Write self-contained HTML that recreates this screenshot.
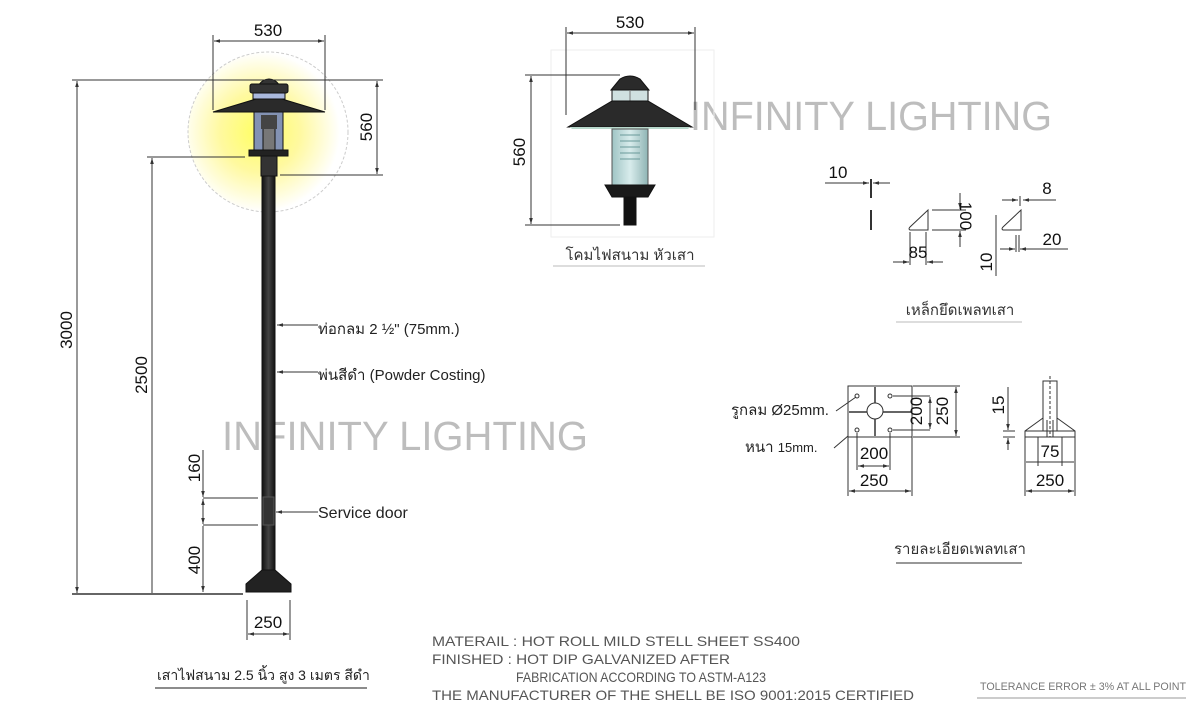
<!DOCTYPE html>
<html><head><meta charset="utf-8"><style>
html,body{margin:0;padding:0;background:#fff;}
svg{display:block;font-family:"Liberation Sans",DejaVu Sans,sans-serif;}
</style></head><body>
<svg width="1199" height="707" viewBox="0 0 1199 707" xmlns="http://www.w3.org/2000/svg">
<defs>
<radialGradient id="glow" cx="0.45" cy="0.5" r="0.5">
<stop offset="0" stop-color="#ffff60"/><stop offset="0.5" stop-color="#fff9a0"/><stop offset="1" stop-color="#ffffff"/>
</radialGradient>
<linearGradient id="pole" x1="0" x2="1"><stop offset="0" stop-color="#111"/><stop offset="0.5" stop-color="#444"/><stop offset="1" stop-color="#111"/></linearGradient>
<linearGradient id="glass" x1="0" x2="1"><stop offset="0" stop-color="#9fc4c4"/><stop offset="0.5" stop-color="#d8ecec"/><stop offset="1" stop-color="#8fb4b4"/></linearGradient>
<marker id="a" viewBox="0 0 10 10" refX="10" refY="5" markerWidth="6" markerHeight="6" orient="auto-start-reverse"><path d="M0,2 L10,5 L0,8z" fill="#333"/></marker>
</defs>
<g stroke="#333" stroke-width="1" fill="none">
<circle cx="268" cy="132" r="80" fill="url(#glow)" stroke="#ccc" stroke-dasharray="3,2"/>
</g>
<text x="222" y="450" font-size="41" fill="#bdbdbd" textLength="366" lengthAdjust="spacingAndGlyphs">INFINITY LIGHTING</text>
<text x="690" y="130" font-size="41" fill="#bdbdbd" textLength="362" lengthAdjust="spacingAndGlyphs">INFINITY LIGHTING</text>
<g stroke="#111">
<rect x="262" y="150" width="13" height="432" fill="url(#pole)"/>
<path d="M256,98 Q256,80 269,79 Q282,80 282,98z" fill="#333"/>
<rect x="250" y="84" width="38" height="9" rx="2" fill="#333"/>
<rect x="253" y="93" width="32" height="6" fill="#aab8dd"/>
<path d="M256,99 L282,99 L325,112 L213,112z" fill="#2a2a2a"/>
<rect x="254" y="112" width="29" height="38" fill="#8392b3"/>
<rect x="263" y="128" width="12" height="22" fill="#777"/>
<rect x="261" y="115" width="16" height="14" fill="#444" stroke="none"/>
<rect x="249" y="150" width="39" height="6" fill="#222"/>
<rect x="261" y="156" width="16" height="20" fill="#333"/>
<rect x="263" y="497" width="11" height="28" fill="#333" stroke="#555"/>
<path d="M262,570 L275,570 L291,584 L291,592 L246,592 L246,584z" fill="#222"/>
</g>
<g stroke="#333" stroke-width="1" fill="none">
<line x1="213" y1="35" x2="213" y2="110"/><line x1="325" y1="35" x2="325" y2="110"/>
<line x1="214" y1="41" x2="324" y2="41" marker-start="url(#a)" marker-end="url(#a)"/>
<line x1="72" y1="80" x2="383" y2="80"/>
<line x1="77" y1="81" x2="77" y2="593" marker-start="url(#a)" marker-end="url(#a)"/>
<line x1="377" y1="81" x2="377" y2="174" marker-start="url(#a)" marker-end="url(#a)"/>
<line x1="280" y1="175" x2="383" y2="175"/>
<line x1="147" y1="157" x2="245" y2="157"/>
<line x1="152" y1="158" x2="152" y2="593" marker-start="url(#a)"/>
<line x1="72" y1="594" x2="243" y2="594" stroke-width="1.5"/>
<line x1="203" y1="450" x2="203" y2="497" marker-end="url(#a)"/>
<line x1="203" y1="499" x2="203" y2="524" marker-start="url(#a)" marker-end="url(#a)"/>
<line x1="203" y1="526" x2="203" y2="592" marker-end="url(#a)"/>
<line x1="203" y1="498" x2="258" y2="498"/><line x1="203" y1="525" x2="258" y2="525"/>
<line x1="247" y1="600" x2="247" y2="640"/><line x1="290" y1="600" x2="290" y2="640"/>
<line x1="248" y1="634" x2="289" y2="634" marker-start="url(#a)" marker-end="url(#a)"/>
<line x1="318" y1="325" x2="277" y2="325" marker-end="url(#a)"/>
<line x1="318" y1="372" x2="277" y2="372" marker-end="url(#a)"/>
<line x1="318" y1="512" x2="276" y2="512" marker-end="url(#a)"/>
<line x1="155" y1="688" x2="367" y2="688" stroke="#666" stroke-width="1.5"/>
</g>
<g font-size="17" fill="#111">
<text x="268" y="36" text-anchor="middle">530</text>
<text transform="translate(72,330) rotate(-90)" text-anchor="middle">3000</text>
<text transform="translate(372,127) rotate(-90)" text-anchor="middle">560</text>
<text transform="translate(147,375) rotate(-90)" text-anchor="middle">2500</text>
<text transform="translate(200,468) rotate(-90)" text-anchor="middle">160</text>
<text transform="translate(200,560) rotate(-90)" text-anchor="middle">400</text>
<text x="268" y="628" text-anchor="middle">250</text>
</g>
<g font-size="15" fill="#222">
<text x="318" y="334">ท่อกลม 2 ½" (75mm.)</text>
<text x="318" y="380">พ่นสีดำ (Powder Costing)</text>
<text x="318" y="518" font-size="16">Service door</text>
<text x="157" y="680" font-size="14">เสาไฟสนาม 2.5 นิ้ว สูง 3 เมตร สีดำ</text>
</g>
<rect x="551" y="50" width="163" height="187" fill="none" stroke="#eee"/>
<g stroke="#111">
<path d="M611,90 L620,79 Q630,73 640,79 L649,90z" fill="#2a2a2a"/>
<rect x="612" y="90" width="36" height="11" fill="#cfe0e0"/>
<line x1="630" y1="90" x2="630" y2="101" stroke="#777"/>
<path d="M612,101 L648,101 L692,127 L568,127z" fill="#2a2a2a"/>
<path d="M570,127 L690,127 L688,129 L572,129z" fill="#b8d8cc" stroke="none"/>
<rect x="612" y="129" width="36" height="56" fill="url(#glass)" stroke="#555"/>
<g stroke="#6a9a9a" stroke-width="1"><line x1="620" y1="135" x2="640" y2="135"/><line x1="620" y1="141" x2="640" y2="141"/><line x1="620" y1="147" x2="640" y2="147"/><line x1="620" y1="153" x2="640" y2="153"/><line x1="620" y1="159" x2="640" y2="159"/></g>
<path d="M605,185 L655,185 L648,197 L612,197z" fill="#1a1a1a"/>
<rect x="624" y="197" width="12" height="28" fill="#111"/>
</g>
<g stroke="#333" fill="none">
<line x1="566" y1="27" x2="566" y2="115"/><line x1="695" y1="27" x2="695" y2="110"/>
<line x1="567" y1="33" x2="694" y2="33" marker-start="url(#a)" marker-end="url(#a)"/>
<line x1="525" y1="75" x2="620" y2="75"/><line x1="525" y1="225" x2="620" y2="225"/>
<line x1="531" y1="76" x2="531" y2="224" marker-start="url(#a)" marker-end="url(#a)"/>
<line x1="553" y1="266" x2="705" y2="266" stroke="#bbb"/>
</g>
<g font-size="17" fill="#111">
<text x="630" y="28" text-anchor="middle">530</text>
<text transform="translate(525,152) rotate(-90)" text-anchor="middle">560</text>
<text x="630" y="260" text-anchor="middle" font-size="15" fill="#333">โคมไฟสนาม หัวเสา</text>
</g>
<g stroke="#333" fill="none">
<line x1="825" y1="183" x2="869" y2="183" marker-end="url(#a)"/>
<line x1="890" y1="183" x2="873" y2="183" marker-end="url(#a)"/>
<line x1="871" y1="179" x2="871" y2="198" stroke-width="2"/>
<line x1="871" y1="210" x2="871" y2="230" stroke-width="2"/>
<path d="M928,210 L928,230 L910,230 Q908,229 910,227z"/>
<line x1="932" y1="210" x2="966" y2="210"/><line x1="932" y1="230" x2="966" y2="230"/>
<line x1="960" y1="193" x2="960" y2="209" marker-end="url(#a)"/>
<line x1="960" y1="247" x2="960" y2="231" marker-end="url(#a)"/>
<line x1="910" y1="232" x2="910" y2="265"/><line x1="926" y1="232" x2="926" y2="265"/>
<line x1="893" y1="262" x2="909" y2="262" marker-end="url(#a)"/>
<line x1="943" y1="262" x2="927" y2="262" marker-end="url(#a)"/>
<path d="M1021,210 L1021,230 L1003,230 Q1001,229 1003,227z"/>
<line x1="1002" y1="200" x2="1018" y2="200" marker-end="url(#a)"/>
<line x1="1056" y1="200" x2="1023" y2="200" marker-end="url(#a)"/>
<line x1="1020" y1="196" x2="1020" y2="206"/>
<line x1="996" y1="215" x2="996" y2="276"/>
<line x1="1016" y1="235" x2="1016" y2="252"/><line x1="1019" y1="235" x2="1019" y2="252"/>
<line x1="1000" y1="249" x2="1015" y2="249" marker-end="url(#a)"/>
<line x1="1068" y1="249" x2="1020" y2="249" marker-end="url(#a)"/>
<line x1="896" y1="322" x2="1022" y2="322" stroke="#bbb"/>
</g>
<g font-size="17" fill="#111">
<text x="838" y="178" text-anchor="middle">10</text>
<text x="1047" y="194" text-anchor="middle">8</text>
<text x="1052" y="245" text-anchor="middle">20</text>
<text x="918" y="258" text-anchor="middle">85</text>
<text transform="translate(960,216) rotate(90)" text-anchor="middle">100</text>
<text transform="translate(992,262) rotate(-90)" text-anchor="middle">10</text>
<text x="960" y="315" text-anchor="middle" font-size="15" fill="#333">เหล็กยึดเพลทเสา</text>
</g>
<g stroke="#333" fill="none">
<rect x="848" y="386" width="64" height="51"/>
<line x1="875" y1="387" x2="875" y2="436" stroke-width="1.5"/>
<line x1="849" y1="412" x2="911" y2="412" stroke-width="1.5"/>
<circle cx="875" cy="411" r="8" fill="#fff"/>
<circle cx="857" cy="396" r="2"/><circle cx="890" cy="396" r="2"/>
<circle cx="857" cy="430" r="2"/><circle cx="890" cy="430" r="2"/>
<line x1="836" y1="411" x2="856" y2="397"/>
<line x1="834" y1="448" x2="848" y2="436"/>
<line x1="893" y1="396" x2="930" y2="396"/><line x1="893" y1="430" x2="930" y2="430"/>
<line x1="913" y1="386" x2="960" y2="386"/><line x1="913" y1="437" x2="960" y2="437"/>
<line x1="930" y1="397" x2="930" y2="429" marker-start="url(#a)" marker-end="url(#a)"/>
<line x1="956" y1="387" x2="956" y2="436" marker-start="url(#a)" marker-end="url(#a)"/>
<line x1="857" y1="433" x2="857" y2="470"/><line x1="890" y1="433" x2="890" y2="470"/>
<line x1="858" y1="466" x2="889" y2="466" marker-start="url(#a)" marker-end="url(#a)"/>
<line x1="848" y1="437" x2="848" y2="496"/><line x1="912" y1="437" x2="912" y2="496"/>
<line x1="849" y1="491" x2="911" y2="491" marker-start="url(#a)" marker-end="url(#a)"/>
<rect x="1043" y="381" width="14" height="50"/>
<line x1="1050" y1="376" x2="1050" y2="437" stroke-dasharray="3,2"/>
<path d="M1043,418 L1025,431 L1025,437 L1075,437 L1075,431 L1057,418"/>
<line x1="1025" y1="431" x2="1075" y2="431"/>
<line x1="1047" y1="420" x2="1047" y2="437"/><line x1="1053" y1="420" x2="1053" y2="437"/>
<line x1="1008" y1="387" x2="1008" y2="430" marker-end="url(#a)"/>
<line x1="1008" y1="450" x2="1008" y2="438" marker-end="url(#a)"/>
<line x1="1003" y1="431" x2="1015" y2="431"/><line x1="1003" y1="437" x2="1015" y2="437"/>
<line x1="1025" y1="437" x2="1025" y2="496"/><line x1="1075" y1="437" x2="1075" y2="496"/>
<line x1="1038" y1="437" x2="1038" y2="466"/><line x1="1062" y1="437" x2="1062" y2="466"/>
<line x1="1026" y1="462" x2="1074" y2="462"/>
<line x1="1026" y1="491" x2="1074" y2="491" marker-start="url(#a)" marker-end="url(#a)"/>
<line x1="896" y1="563" x2="1022" y2="563" stroke="#777" stroke-width="1.5"/>
</g>
<g font-size="17" fill="#111">
<text x="731" y="415" font-size="15" fill="#222">รูกลม Ø25mm.</text>
<text x="745" y="452" font-size="15" fill="#222">หนา <tspan font-size="13">15mm.</tspan></text>
<text x="874" y="459" text-anchor="middle">200</text>
<text x="874" y="486" text-anchor="middle">250</text>
<text transform="translate(922,411) rotate(-90)" text-anchor="middle">200</text>
<text transform="translate(948,411) rotate(-90)" text-anchor="middle">250</text>
<text transform="translate(1004,405) rotate(-90)" text-anchor="middle">15</text>
<text x="1050" y="457" text-anchor="middle">75</text>
<text x="1050" y="486" text-anchor="middle">250</text>
<text x="960" y="554" text-anchor="middle" font-size="15" fill="#333">รายละเอียดเพลทเสา</text>
</g>
<g font-size="14" fill="#555">
<text x="432" y="646" textLength="368" lengthAdjust="spacingAndGlyphs">MATERAIL : HOT ROLL MILD STELL SHEET SS400</text>
<text x="432" y="664" textLength="298" lengthAdjust="spacingAndGlyphs">FINISHED  : HOT DIP GALVANIZED AFTER</text>
<text x="516" y="682" textLength="250" lengthAdjust="spacingAndGlyphs">FABRICATION ACCORDING TO ASTM-A123</text>
<text x="432" y="700" textLength="482" lengthAdjust="spacingAndGlyphs">THE MANUFACTURER OF THE SHELL BE ISO 9001:2015 CERTIFIED</text>
<text x="980" y="690" font-size="11" textLength="206" lengthAdjust="spacingAndGlyphs" fill="#777">TOLERANCE ERROR ± 3% AT ALL POINT</text>
</g>
<line x1="977" y1="698" x2="1186" y2="698" stroke="#999"/>
</svg>
</body></html>
